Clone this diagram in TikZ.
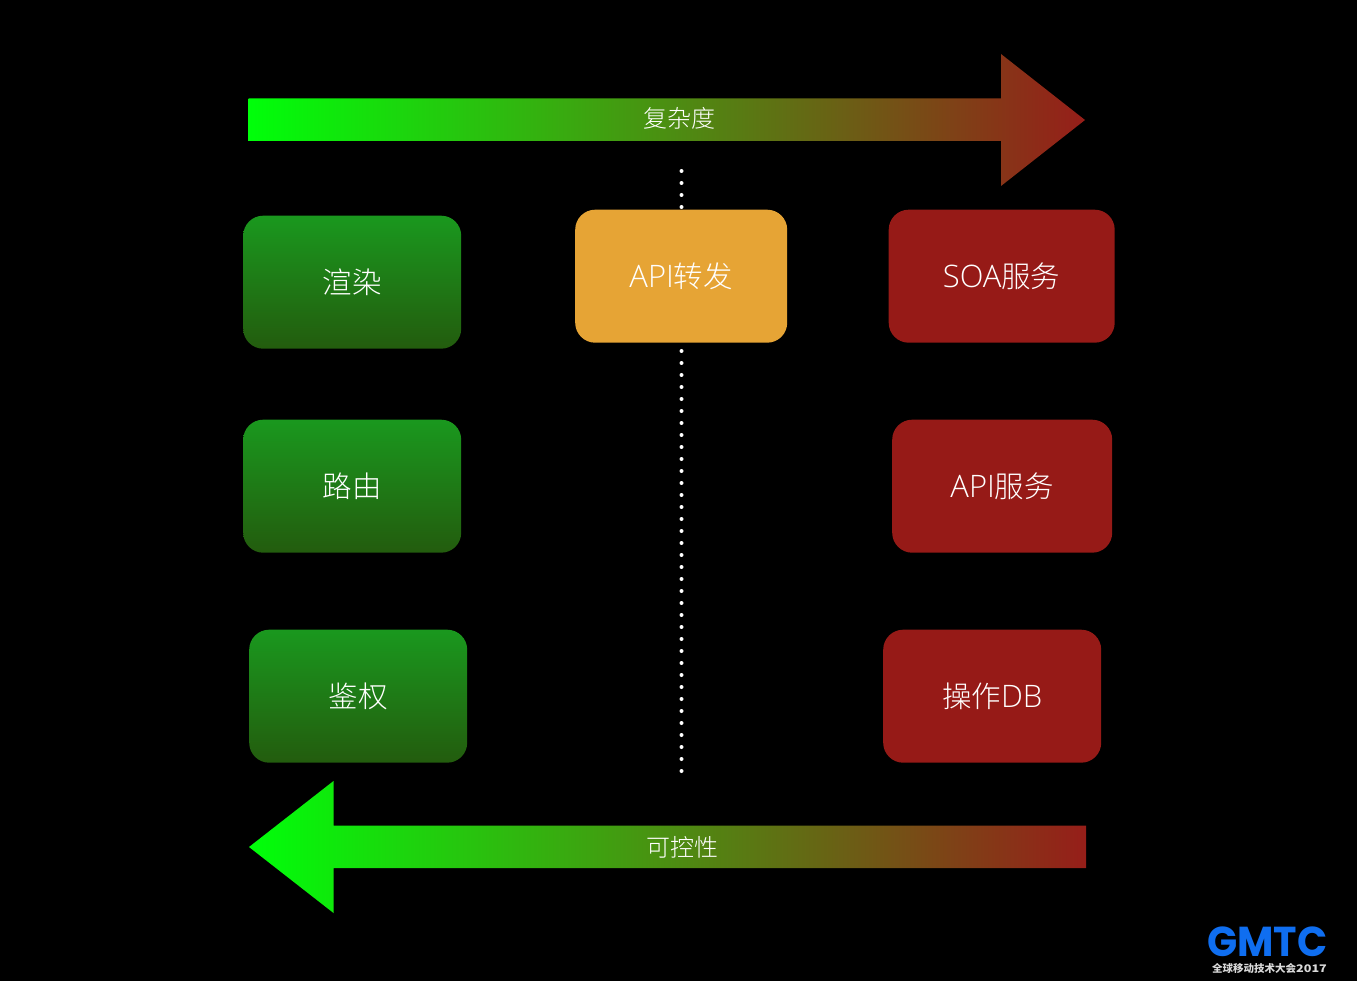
\documentclass[tikz,border=0pt]{standalone}
\usepackage{fontspec}
\setmainfont{Lato}
\newfontfamily\cjk[Scale=1]{Noto Sans CJK SC Light}
\newfontfamily\cjkb{Noto Sans CJK SC}
\newfontfamily\lat[Scale=1.05]{Open Sans Light}
\newfontfamily\logo{Poppins}
\definecolor{bararrowgreen}{RGB}{0,255,10}
\definecolor{bararrowred}{RGB}{150,30,25}
\definecolor{gtop}{RGB}{26,152,30}
\definecolor{gbot}{RGB}{35,92,14}
\definecolor{redbox}{RGB}{150,26,23}
\definecolor{orangebox}{RGB}{230,164,53}
\definecolor{logoblue}{RGB}{15,110,240}
\tikzset{
  x=1pt,y=-1pt,
  boxbase/.style={rounded corners=20pt,anchor=north west,inner sep=0pt,text=white,font=\cjk\fontsize{29.5}{32}\selectfont,align=center},
  greenbox/.style={boxbase,top color=gtop,bottom color=gbot,minimum width=218pt,minimum height=133pt},
  dangerbox/.style={boxbase,fill=redbox,minimum height=133pt},
  midbox/.style={boxbase,fill=orangebox,minimum height=133pt},
  barlabel/.style={text=white,font=\cjk\fontsize{24}{28}\selectfont,inner sep=0pt},
  dotline/.style={white,line width=4pt,line cap=round,dash pattern=on 0pt off 12pt},
}
\begin{document}
\begin{tikzpicture}
\useasboundingbox[fill=black] (0,0) rectangle (1357,981);
% arrows
\shade[left color=bararrowgreen,right color=bararrowred,middle color=bararrowgreen!50!bararrowred]
  (248.5,98.5) -- (1001,98.5) -- (1001,54) -- (1085,120) -- (1001,186) -- (1001,141) -- (248.5,141) -- cycle;
\shade[left color=bararrowgreen,right color=bararrowred,middle color=bararrowgreen!50!bararrowred]
  (1086,825.5) -- (333.5,825.5) -- (333.5,781) -- (249,847) -- (333.5,913) -- (333.5,868) -- (1086,868) -- cycle;
\node[barlabel] (t1) at (679,118) {复杂度};
\node[barlabel] (t2) at (682,847.5) {可控性};
% dotted
\coordinate (dtop) at (681.5,171);
\coordinate (dbot) at (681.5,771);
\draw[dotline] (dtop) -- (dbot);
% boxes
\node[greenbox] (a1) at (243,215.5) {渲染};
\node[greenbox] (a2) at (243,419.5) {路由};
\node[greenbox] (a3) at (249,629.5) {鉴权};
\node[midbox,minimum width=212pt] (b1) at (575,209.5) {{\lat API}转发};
\node[dangerbox,minimum width=226pt] (c1) at (888.5,209.5) {{\lat SOA}服务};
\node[dangerbox,minimum width=220pt] (c2) at (892,419.5) {{\lat API}服务};
\node[dangerbox,minimum width=218pt] (c3) at (883,629.5) {操作{\lat DB}};
% logo
\node[inner sep=0pt,text=logoblue,font=\logo\bfseries\fontsize{44}{44}\selectfont] (lg) at (1267.5,942) {\scalebox{.9}[.95]{GMTC}};
\node[inner sep=0pt,text=white!85!black,font=\cjkb\bfseries\fontsize{10.5}{11}\selectfont] (lgt) at (1269.5,968) {全球移动技术大会\scalebox{1.2}[1]{2017}};
\end{tikzpicture}
\end{document}
